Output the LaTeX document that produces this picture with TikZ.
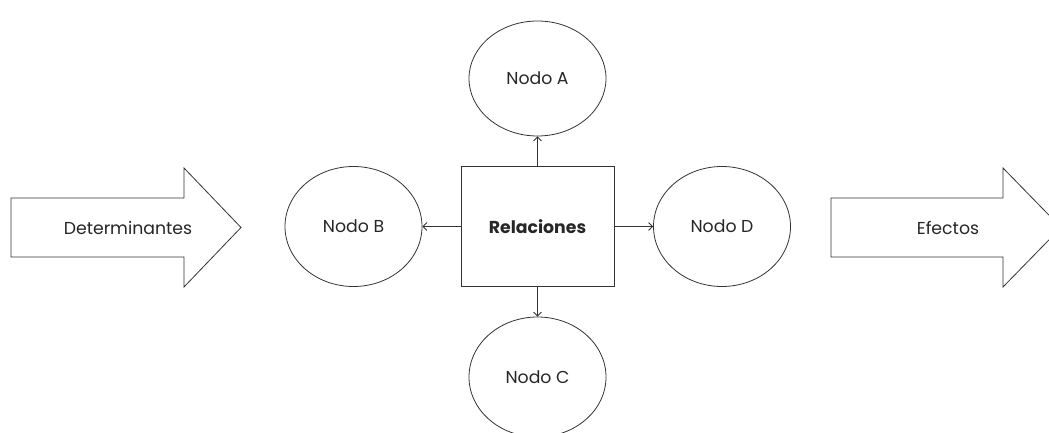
\documentclass[tikz,border=0pt]{standalone}
\usepackage{fontspec}
\setmainfont{Poppins}
\usetikzlibrary{shapes.geometric,arrows.meta}
\begin{document}
\begin{tikzpicture}[x=1pt,y=-1pt,
  line/.style={draw=black!80,line width=0.8pt},
  nodeell/.style={ellipse,line,minimum width=137pt,minimum height=118pt,inner sep=0pt,font=\fontsize{17.3}{20}\selectfont,text=black!85},
  conn/.style={line,-{Straight Barb[length=4pt,width=8pt]}},
  lbl/.style={font=\fontsize{17.3}{20}\selectfont,text=black!85}]
\useasboundingbox (0,0) rectangle (1049,433);
\clip (0,0) rectangle (1049,433);
% big arrows
\draw[line,fill=white] (11,198) -- (184,198) -- (184,168) -- (241,227.5) -- (184,287) -- (184,257) -- (11,257) -- cycle;
\node[lbl] (det) at (128,227.5) {Determinantes};
\draw[line,fill=white] (831,198) -- (1003,198) -- (1003,168) -- (1061,227.5) -- (1003,287) -- (1003,257) -- (831,257) -- cycle;
\node[lbl] (efe) at (948,227.5) {Efectos};
% centre box
\node[line,rectangle,minimum width=153pt,minimum height=120pt,inner sep=0pt,font=\fontsize{17.3}{20}\selectfont\bfseries,text=black!85] (rel) at (537.5,226.5) {Relaciones};
% ellipses
\node[nodeell,minimum height=115pt] (a) at (537.5,78.5) {Nodo A};
\node[nodeell,minimum height=120pt] (b) at (353.5,226.5) {Nodo B};
\node[nodeell,minimum height=120pt] (c) at (537.5,377) {Nodo C};
\node[nodeell,minimum height=120pt] (d) at (722,226.5) {Nodo D};
% connectors
\draw[conn] (rel.north) -- (a.south);
\draw[conn] (rel.south) -- (c.north);
\draw[conn] (rel.west) -- (b.east);
\draw[conn] (rel.east) -- (d.west);
\end{tikzpicture}
\end{document}
